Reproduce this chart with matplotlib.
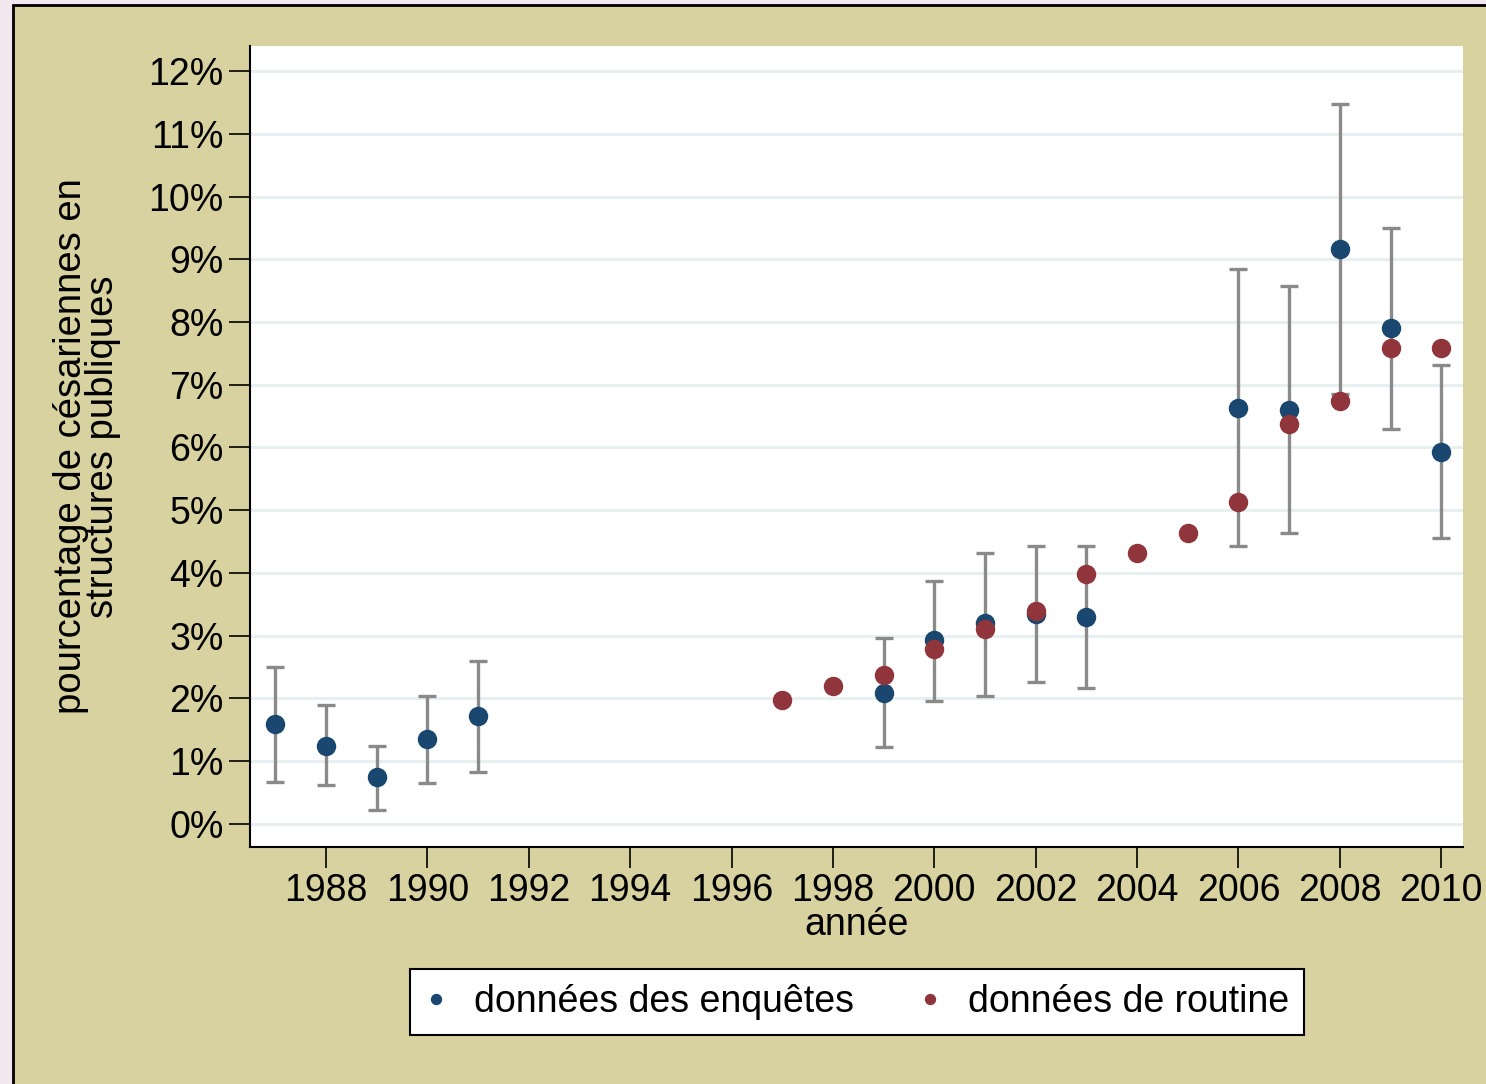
import matplotlib
matplotlib.use("Agg")
import matplotlib.pyplot as plt
from matplotlib.patches import Rectangle
from matplotlib.ticker import FuncFormatter

plt.rcParams['font.family'] = ['Liberation Sans', 'DejaVu Sans']

# --- data (percent) ---
survey_years = [1987, 1988, 1989, 1990, 1991, 1999, 2000, 2001, 2002, 2003, 2006, 2007, 2008, 2009, 2010]
survey_val = [1.59, 1.24, 0.75, 1.35, 1.72, 2.09, 2.93, 3.20, 3.35, 3.30, 6.63, 6.60, 9.16, 7.90, 5.93]
survey_hi = [2.50, 1.90, 1.24, 2.04, 2.60, 2.96, 3.87, 4.32, 4.43, 4.43, 8.84, 8.57, 11.47, 9.50, 7.31]
survey_lo = [0.67, 0.62, 0.22, 0.65, 0.83, 1.23, 1.96, 2.04, 2.26, 2.17, 4.43, 4.64, 6.85, 6.29, 4.56]

routine_years = [1997, 1998, 1999, 2000, 2001, 2002, 2003, 2004, 2005, 2006, 2007, 2008, 2009, 2010]
routine_val = [1.98, 2.20, 2.37, 2.79, 3.11, 3.39, 3.98, 4.32, 4.64, 5.13, 6.37, 6.74, 7.59, 7.59]

x_ticks = list(range(1988, 2011, 2))
y_ticks = list(range(0, 13))

# --- colours ---
BLUE = '#1a476f'
RED = '#90353b'
GREY = '#8a8a8a'
KHAKI = '#d8d2a0'
PINK = '#f4e8f0'
GRID = '#e6eff1'

W, H = 1486, 1084
fig = plt.figure(figsize=(W / 100, H / 100), dpi=100, facecolor=PINK)

# khaki frame behind everything
fig.patches.append(Rectangle((13 / W, -0.05), 1.2, 1.05 - 5 / H, transform=fig.transFigure,
                             facecolor=KHAKI, edgecolor='black', linewidth=2, zorder=-10))

ax = fig.add_axes([250 / W, 1 - 847 / H, (1463 - 250) / W, (847 - 46) / H])
ax.set_facecolor('white')

for y in y_ticks:
    ax.axhline(y, color=GRID, lw=2, zorder=0)

yerr = [[v - l for v, l in zip(survey_val, survey_lo)],
        [h - v for v, h in zip(survey_val, survey_hi)]]
ax.errorbar(survey_years, survey_val, yerr=yerr, fmt='none', ecolor=GREY,
            elinewidth=2.4, capsize=6.5, capthick=2.4, zorder=2)
ax.plot(survey_years, survey_val, 'o', color=BLUE, ms=13, zorder=3,
        label='données des enquêtes')
ax.plot(routine_years, routine_val, 'o', color=RED, ms=13, zorder=4,
        label='données de routine')

ax.set_xlim(1986.5, 2010.43)
ax.set_ylim(-0.37, 12.4)
ax.set_xticks(x_ticks)
ax.set_yticks(y_ticks)
ax.yaxis.set_major_formatter(FuncFormatter(lambda v, p: f"{int(v)}%"))
ax.tick_params(axis='both', labelsize=27, length=15, width=1.2, colors='black', pad=4)

for s in ['top', 'right']:
    ax.spines[s].set_visible(False)
for s in ['left', 'bottom']:
    ax.spines[s].set_linewidth(1.5)

ax.set_xlabel('année', fontsize=27, labelpad=-2)
ax.set_ylabel('pourcentage de césariennes en\nstructures publiques', fontsize=27.5,
              labelpad=20, linespacing=0.85)

leg = fig.legend(loc='center', bbox_to_anchor=(857 / W, 1 - 1002 / H), ncol=2,
                 fontsize=27, frameon=True, fancybox=False, markerscale=0.55,
                 handlelength=0.6, handletextpad=0.7, columnspacing=1.75,
                 borderpad=0.4, edgecolor='black', facecolor='white', framealpha=1)
leg.get_frame().set_linewidth(1.5)

fig.savefig('out.png', dpi=100, facecolor=PINK)
